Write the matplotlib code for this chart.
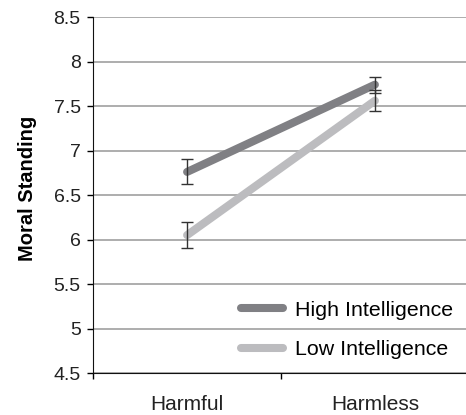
import matplotlib.pyplot as plt

plt.rcParams['font.family'] = ['Liberation Sans', 'DejaVu Sans']

categories = ['Harmful', 'Harmless']
high_int = [6.76, 7.74]
high_err = [0.14, 0.09]
low_int = [6.05, 7.56]
low_err = [0.15, 0.12]

x = [0.5, 1.5]

fig = plt.figure(figsize=(4.66, 4.15), dpi=100)
ax = fig.add_axes([0.2, 0.101, 0.806, 0.858])

ax.plot(x, high_int, color='#808084', lw=5.8, solid_capstyle='round', label='High Intelligence', zorder=3)
ax.plot(x, low_int, color='#bcbcbf', lw=5.8, solid_capstyle='round', label='Low Intelligence', zorder=3)
ax.errorbar(x, high_int, yerr=high_err, fmt='none', ecolor='#333333', elinewidth=1, capsize=4, capthick=1, zorder=4)
ax.errorbar(x, low_int, yerr=low_err, fmt='none', ecolor='#333333', elinewidth=1, capsize=4, capthick=1, zorder=4)

ax.set_xlim(0, 2)
ax.set_ylim(4.5, 8.5)
ax.set_yticks([4.5, 5, 5.5, 6, 6.5, 7, 7.5, 8, 8.5])
ax.set_yticklabels(['4.5', '5', '5.5', '6', '6.5', '7', '7.5', '8', '8.5'], fontsize=14, color='#222222')
ax.set_xticks([0, 1, 2])
ax.set_xticklabels([])
ax.set_xticks(x, minor=True)
ax.set_xticklabels(categories, minor=True, fontsize=15, color='#222222')
ax.tick_params(axis='x', which='minor', length=0, pad=16)
ax.tick_params(axis='both', which='major', length=4, width=1, direction='out')
ax.tick_params(axis='y', pad=5)

ax.grid(axis='y', color='#a0a0a0', lw=1.2)
ax.set_axisbelow(True)
for s in ['top', 'right']:
    ax.spines[s].set_visible(False)
ax.spines['left'].set_color('#111111')
ax.spines['bottom'].set_color('#111111')

ax.set_ylabel('Moral Standing', fontsize=14.5, fontweight='bold')
ax.yaxis.set_label_coords(-0.15, 0.52)

ax.legend(loc='lower right', bbox_to_anchor=(1.01, -0.015), frameon=False, fontsize=15.4,
          handlelength=2.0, handletextpad=0.55, labelspacing=0.95)

fig.savefig('out.png')
